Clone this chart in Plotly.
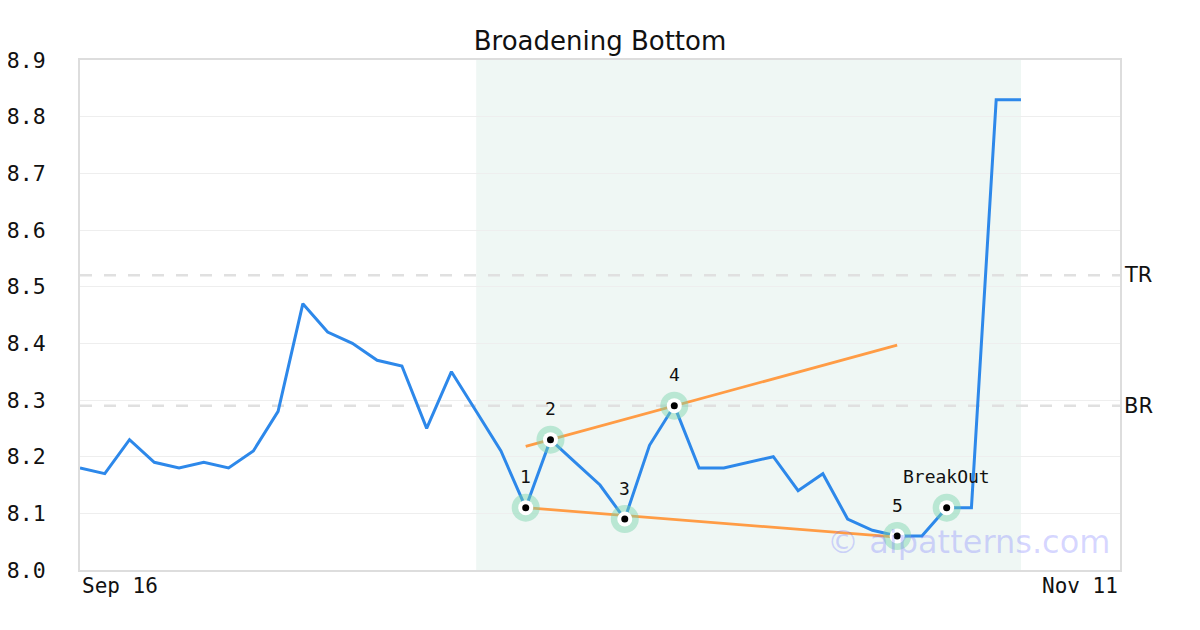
import plotly.graph_objects as go

# ---- data ----
prices = [8.18, 8.17, 8.23, 8.19, 8.18, 8.19, 8.18, 8.21, 8.28, 8.47,
          8.42, 8.40, 8.37, 8.36, 8.25, 8.35, 8.28, 8.21, 8.11, 8.23,
          8.19, 8.15, 8.09, 8.22, 8.29, 8.18, 8.18, 8.19, 8.20, 8.14,
          8.17, 8.09, 8.07, 8.06, 8.06, 8.11, 8.11, 8.83, 8.83]
x_idx = list(range(len(prices)))
axis_last_idx = 42
date_labels = ["Sep 16", "Nov 11"]
date_label_idx = [0, axis_last_idx]

pattern_idx = [18, 19, 22, 24, 33, 35]
pattern_labels = ["1", "2", "3", "4", "5", "BreakOut"]
pattern_vals = [prices[i] for i in pattern_idx]

upper_x = [18, 33]
upper_y = [8.218, 8.397]
lower_x = [18, 33]
lower_y = [8.11, 8.058]

zone_start, zone_end = 16, 38

level_names = ["TR", "BR"]
level_vals = [8.52, 8.29]

y_ticks = [8.0, 8.1, 8.2, 8.3, 8.4, 8.5, 8.6, 8.7, 8.8, 8.9]

MONO = "DejaVu Sans Mono"
SANS = "DejaVu Sans"

fig = go.Figure()

# pattern zone
fig.add_shape(type="rect", xref="x", yref="paper", x0=zone_start, x1=zone_end,
              y0=0, y1=1, fillcolor="#eff7f4", line_width=0, layer="below")

# level lines
for name, v in zip(level_names, level_vals):
    fig.add_shape(type="line", xref="paper", yref="y", x0=0, x1=1, y0=v, y1=v,
                  line=dict(color="#e0e0e0", width=2.5, dash="12px,12px"), layer="below")
    fig.add_annotation(xref="paper", yref="y", x=1, y=v, text=name, showarrow=False,
                       xanchor="left", xshift=2, font=dict(family=SANS, size=21, color="#111"))

# price line
fig.add_trace(go.Scatter(x=x_idx, y=prices, mode="lines",
                         line=dict(color="#2d88ea", width=3), hoverinfo="skip"))

# trend lines
fig.add_trace(go.Scatter(x=upper_x, y=upper_y, mode="lines",
                         line=dict(color="#ff9c45", width=2.8), hoverinfo="skip"))
fig.add_trace(go.Scatter(x=lower_x, y=lower_y, mode="lines",
                         line=dict(color="#ff9c45", width=2.8), hoverinfo="skip"))

# markers: halo, white ring, black dot
fig.add_trace(go.Scatter(x=pattern_idx, y=pattern_vals, mode="markers",
                         marker=dict(size=28, color="rgba(120,210,170,0.45)", line_width=0)))
fig.add_trace(go.Scatter(x=pattern_idx, y=pattern_vals, mode="markers",
                         marker=dict(size=15, color="white", line_width=0)))
fig.add_trace(go.Scatter(x=pattern_idx, y=pattern_vals, mode="markers",
                         marker=dict(size=7, color="black", line_width=0)))

for i, v, t in zip(pattern_idx, pattern_vals, pattern_labels):
    fig.add_annotation(x=i, y=v, text=t, showarrow=False, yshift=31,
                       font=dict(family=MONO, size=18, color="#111"))

# date labels
for i, t in zip(date_label_idx, date_labels):
    fig.add_annotation(x=i, xref="x", y=0, yref="paper", text=t, showarrow=False,
                       xanchor="left" if i == 0 else "right", yanchor="top", yshift=-2,
                       font=dict(family=MONO, size=21, color="#111"))

# watermark
fig.add_annotation(xref="paper", yref="paper", x=0.854, y=0.055, text="© aipatterns.com",
                   showarrow=False, xanchor="center", yanchor="middle",
                   font=dict(family=SANS, size=32, color="rgba(110,110,255,0.28)"))

# the page body adds an 8px offset; margins compensate so the plot area sits at 80..1120 x 60..570
fig.update_layout(
    width=1200, height=630,
    margin=dict(l=72, r=88, t=52, b=68),
    paper_bgcolor="white", plot_bgcolor="white",
    showlegend=False,
    title=dict(text="Broadening Bottom", x=592 / 1200, xanchor="center", y=0.948, yanchor="middle",
               automargin=False,
               font=dict(family=SANS, size=26, color="#111")),
    xaxis=dict(range=[0, axis_last_idx], showgrid=False, zeroline=False,
               showticklabels=False, showline=True, mirror=True, automargin=False,
               linecolor="#dddddd", linewidth=2),
    yaxis=dict(range=[8.0, 8.9], tickvals=y_ticks, ticktext=[f"{v:.1f}" for v in y_ticks],
               showgrid=True, gridcolor="#eeeeee", gridwidth=1, zeroline=False,
               showline=True, mirror=True, linecolor="#dddddd", linewidth=2,
               automargin=False, ticklabelstandoff=28,
               tickfont=dict(family=MONO, size=21.5, color="#111")),
)

fig.write_html("out.html")
